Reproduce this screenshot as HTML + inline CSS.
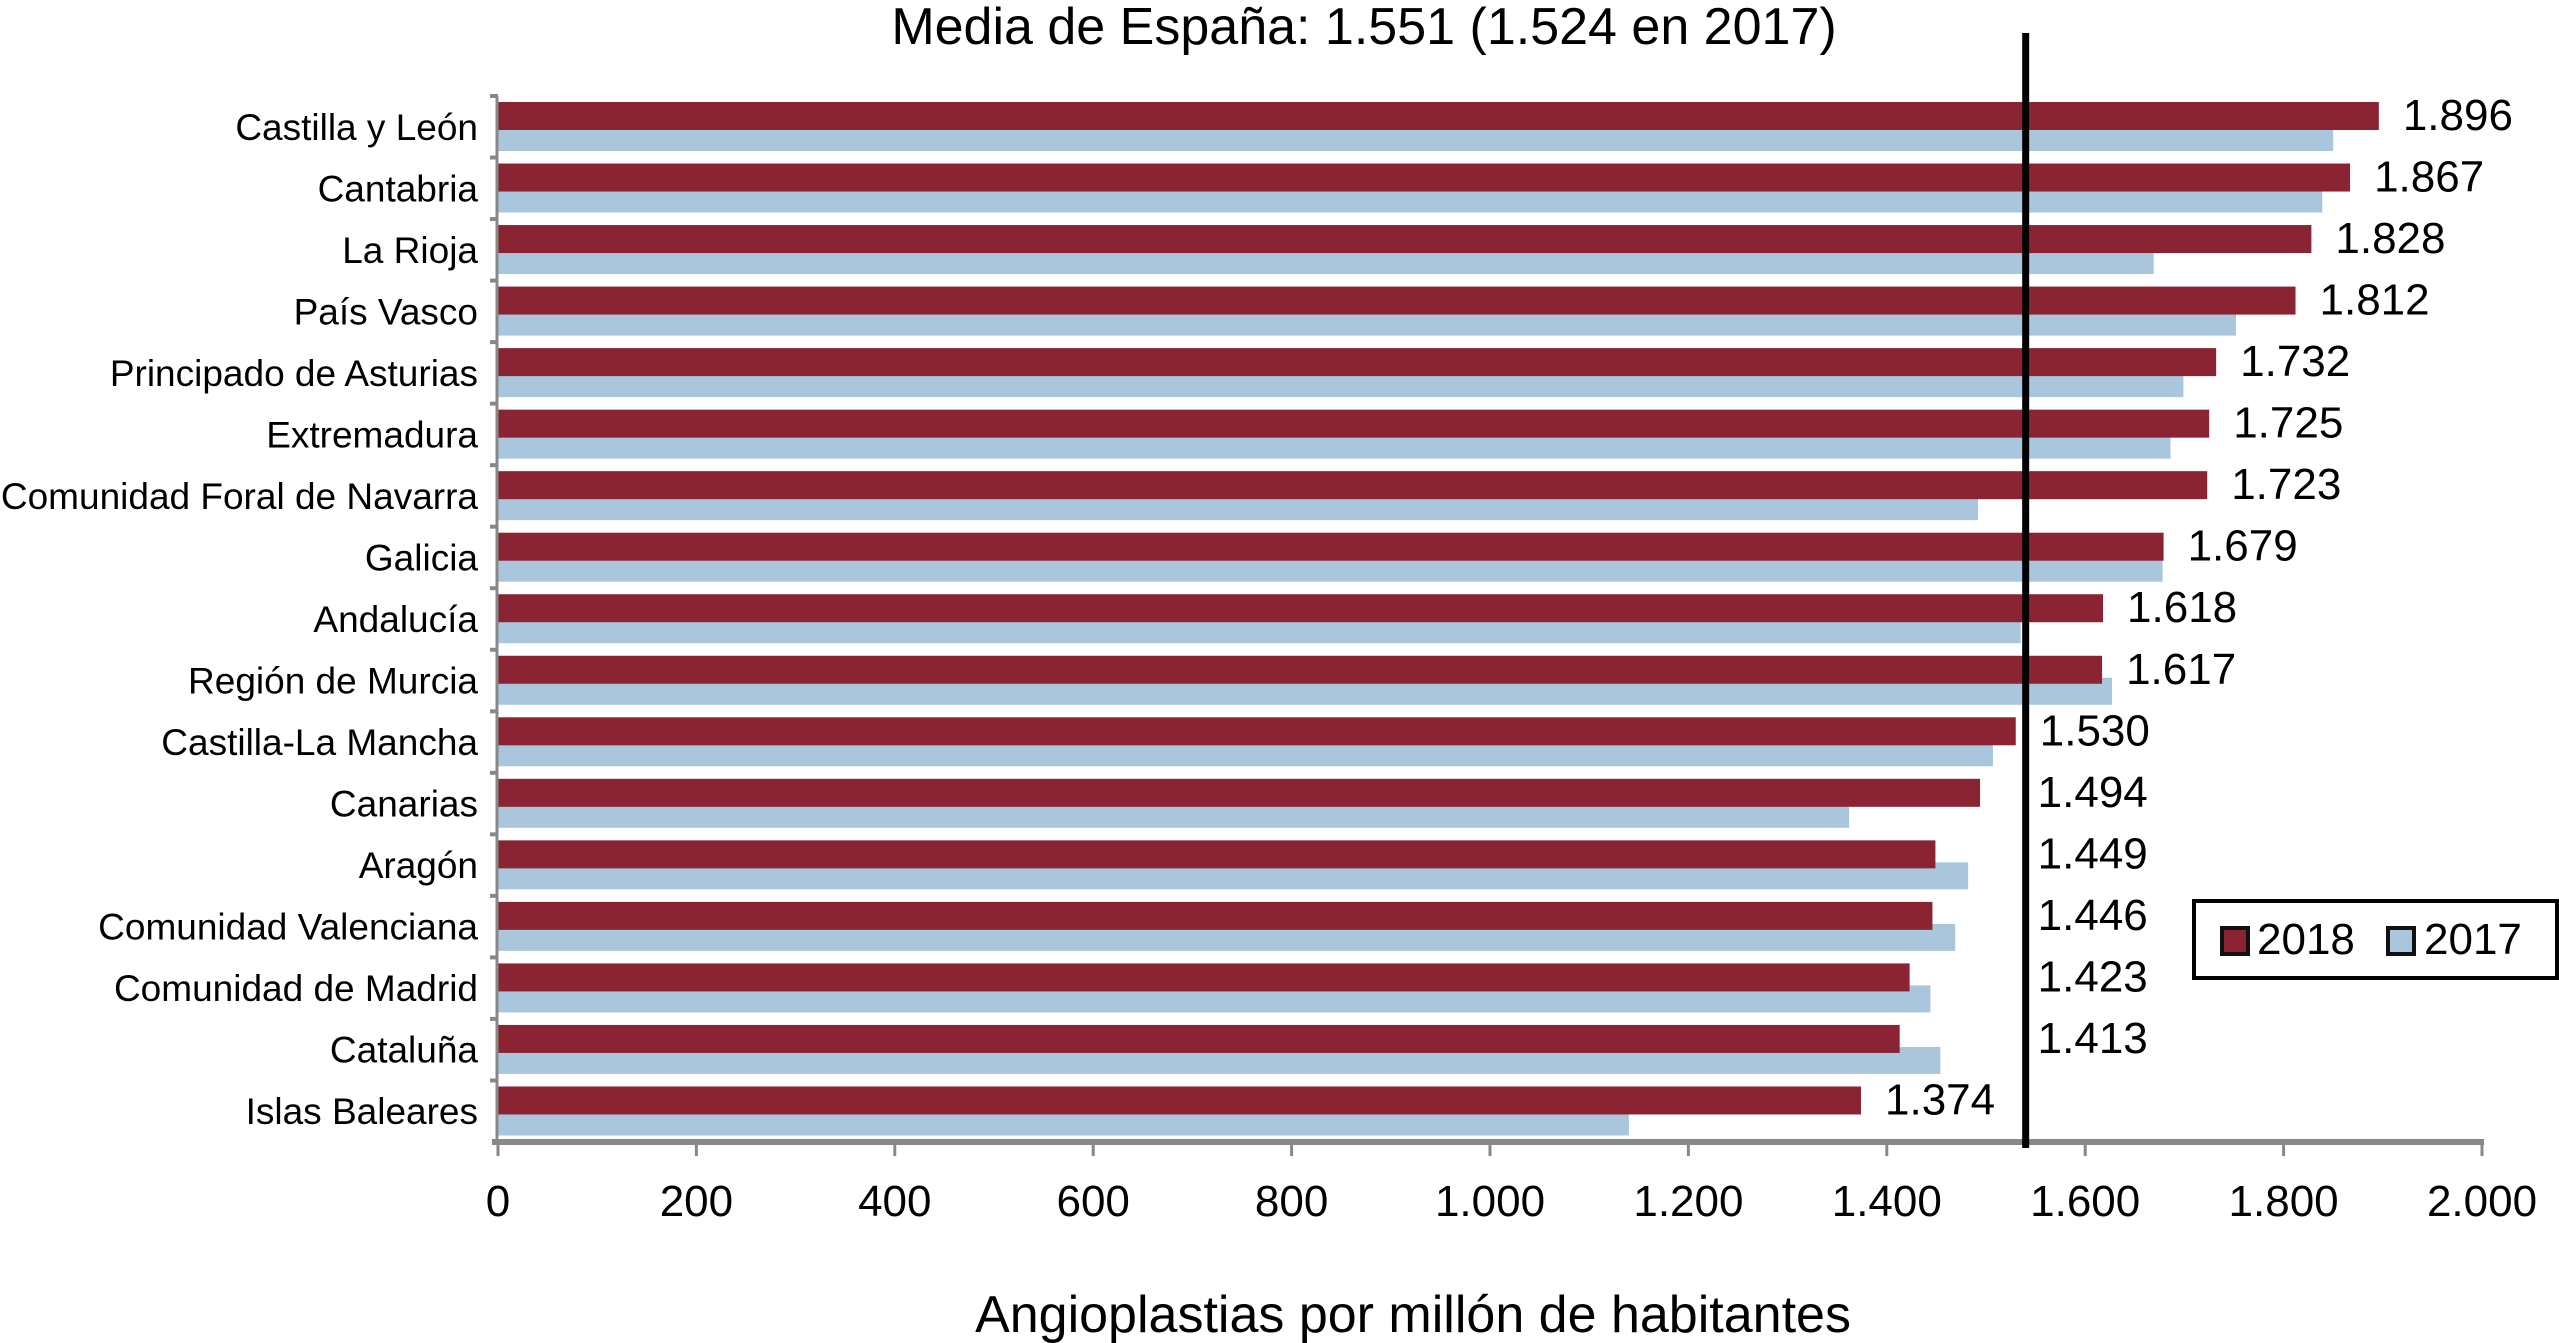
<!DOCTYPE html>
<html><head><meta charset="utf-8">
<style>
html,body{margin:0;padding:0;background:#fff;}
svg{display:block;font-family:"Liberation Sans",Arial,sans-serif;}
</style></head>
<body>
<svg id="chart" width="2559" height="1343" viewBox="0 0 2559 1343" xmlns="http://www.w3.org/2000/svg">
<text x="1364" y="44" font-size="52" text-anchor="middle" fill="#000">Media de España: 1.551 (1.524 en 2017)</text>
<g id="plot"></g>
<text x="1413" y="1332" font-size="52" text-anchor="middle" fill="#000">Angioplastias por millón de habitantes</text>
<g>
<rect x="2194" y="901" width="363" height="77" fill="#fff" stroke="#000" stroke-width="4"/>
<rect x="2222" y="928" width="26" height="26" fill="#8a2433" stroke="#111" stroke-width="4"/>
<text x="2257" y="954" font-size="44">2018</text>
<rect x="2388" y="928" width="26" height="26" fill="#a9c6dd" stroke="#111" stroke-width="4"/>
<text x="2424" y="954" font-size="44">2017</text>
</g>
</svg>
<script>
const categories = ["Castilla y León","Cantabria","La Rioja","País Vasco","Principado de Asturias","Extremadura","Comunidad Foral de Navarra","Galicia","Andalucía","Región de Murcia","Castilla-La Mancha","Canarias","Aragón","Comunidad Valenciana","Comunidad de Madrid","Cataluña","Islas Baleares"];
const values2018 = [1896,1867,1828,1812,1732,1725,1723,1679,1618,1617,1530,1494,1449,1446,1423,1413,1374];
const values2017 = [1850,1839,1669,1752,1699,1686,1492,1678,1535,1627,1507,1362,1482,1469,1444,1454,1140];
const labels2018 = ["1.896","1.867","1.828","1.812","1.732","1.725","1.723","1.679","1.618","1.617","1.530","1.494","1.449","1.446","1.423","1.413","1.374"];
const xTicks = [0,200,400,600,800,1000,1200,1400,1600,1800,2000];
const xTickLabels = ["0","200","400","600","800","1.000","1.200","1.400","1.600","1.800","2.000"];
const meanValue = 1540;

const NS="http://www.w3.org/2000/svg";
const g=document.getElementById('plot');
const X0=498,X1=2482,VMAX=2000,TOP=96,BOT=1142;
const rowH=(BOT-TOP)/categories.length;
function xs(v){return X0+(X1-X0)*v/VMAX;}
function ys(i){return TOP+i*rowH;}
function mk(tag,attrs){const e=document.createElementNS(NS,tag);for(const k in attrs)e.setAttribute(k,attrs[k]);g.appendChild(e);return e;}
const meanX=xs(meanValue);
const LBLW=112;
categories.forEach((c,i)=>{
  const y=ys(i);
  const b2=mk('rect',{x:X0,y:y+28,width:xs(values2017[i])-X0,height:27,fill:'#a9c6dd'});
  
  
  const b1=mk('rect',{x:X0,y:y+6,width:xs(values2018[i])-X0,height:28,fill:'#8a2433'});
  
  
  const t=mk('text',{x:478,y:y+rowH/2+13,'font-size':37,'text-anchor':'end'});
  t.textContent=c;
  
  
  let lx=xs(values2018[i])+24;
  if(lx<meanX && lx+LBLW>meanX-4) lx=meanX+12;
  const v=mk('text',{x:lx,y:y+34,'font-size':44});
  v.textContent=labels2018[i];
  
  
  const tk=mk('line',{x1:490,x2:498,y1:y,y2:y,stroke:'#888','stroke-width':4});
  
  
});
const ya=mk('line',{x1:497,x2:497,y1:TOP,y2:BOT,stroke:'#888','stroke-width':3});


const xa=mk('line',{x1:X0-6,x2:X1+2,y1:BOT,y2:BOT,stroke:'#888','stroke-width':6});


xTicks.forEach((v,i)=>{
  const l=mk('line',{x1:xs(v),x2:xs(v),y1:BOT,y2:BOT+14,stroke:'#888','stroke-width':3});
  
  
  const t=mk('text',{x:xs(v),y:1216,'font-size':44,'text-anchor':'middle'});
  t.textContent=xTickLabels[i];
  
  
});
const ml=mk('line',{x1:meanX,x2:meanX,y1:33,y2:1148,stroke:'#000','stroke-width':7});


</script>
</body></html>
